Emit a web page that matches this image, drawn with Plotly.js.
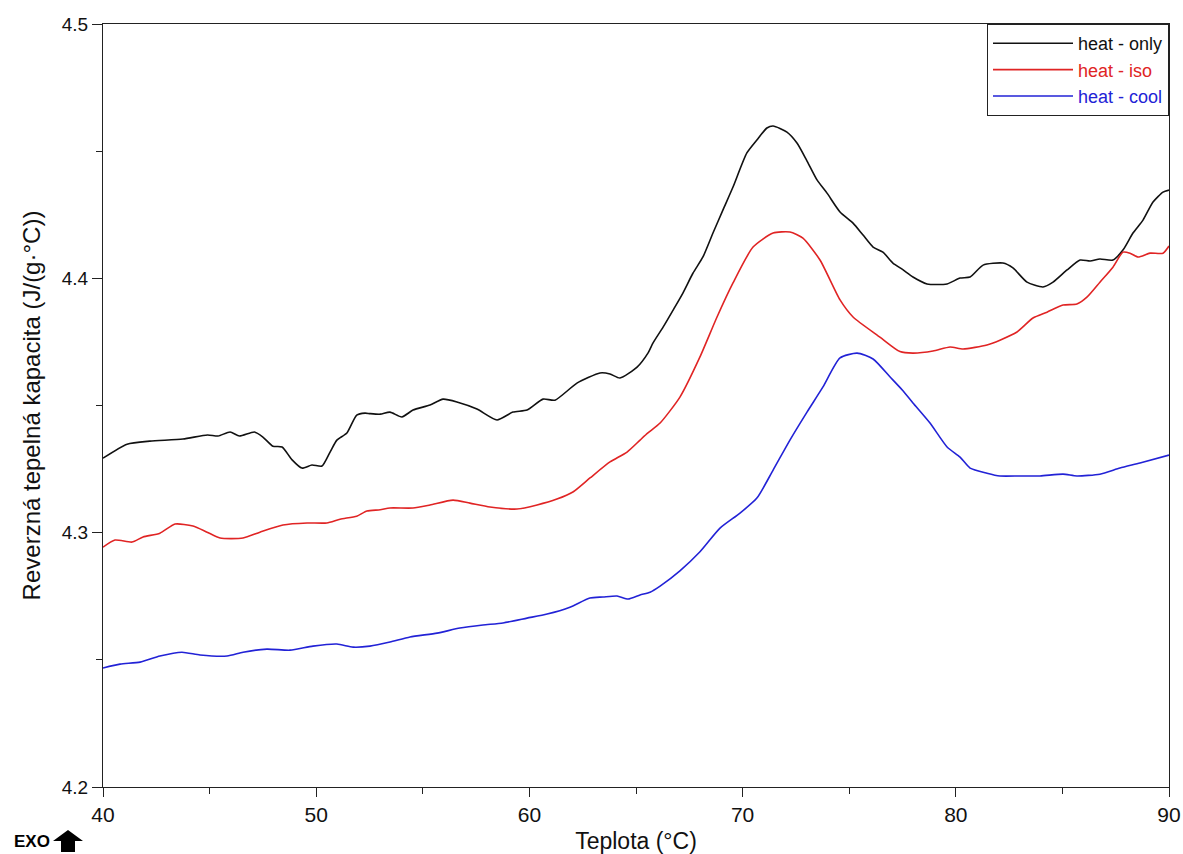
<!DOCTYPE html>
<html>
<head>
<meta charset="utf-8">
<script src="https://cdn.plot.ly/plotly-3.0.1.min.js"></script>
<style>html,body{margin:0;padding:0;background:#fff}#chart{width:1183px;height:854px}</style>
</head>
<body>
<div id="chart"></div>
<script>
// heat - only (black)
const onlyX = [40.0, 41.13, 42.2, 43.75, 44.9, 45.4, 45.96, 46.4, 47.1, 47.5, 47.97, 48.4, 48.87, 49.33, 49.8, 50.27, 50.65, 50.97, 51.44, 51.9, 52.29, 52.52, 53.0, 53.46, 54.02, 54.54, 55.34, 55.95, 56.6, 57.54, 58.48, 59.23, 59.89, 60.64, 61.2, 62.23, 63.31, 63.78, 64.25, 65.05, 65.56, 65.8, 66.27, 66.74, 67.2, 67.67, 68.14, 68.61, 69.08, 69.55, 70.2, 70.67, 71.14, 71.43, 72.08, 72.55, 73.0, 73.49, 73.96, 74.57, 75.18, 75.65, 76.12, 76.58, 77.05, 77.5, 77.99, 78.65, 79.59, 80.2, 80.67, 81.28, 82.21, 82.68, 83.34, 84.09, 84.56, 85.22, 85.83, 86.3, 86.76, 87.37, 87.84, 88.31, 88.78, 89.25, 89.72, 90.0];
const onlyY = [4.3293, 4.3348, 4.3360, 4.3368, 4.3384, 4.3380, 4.3396, 4.3380, 4.3396, 4.3376, 4.3340, 4.3337, 4.3286, 4.3254, 4.3266, 4.3262, 4.3317, 4.3364, 4.3392, 4.3462, 4.3470, 4.3468, 4.3466, 4.3474, 4.3455, 4.3482, 4.3502, 4.3525, 4.3514, 4.3486, 4.3443, 4.3474, 4.3482, 4.3525, 4.3521, 4.3588, 4.3628, 4.3624, 4.3608, 4.3651, 4.3706, 4.3746, 4.3808, 4.3875, 4.3942, 4.4020, 4.4084, 4.4178, 4.4269, 4.4359, 4.4493, 4.4544, 4.4591, 4.4599, 4.4575, 4.4532, 4.4465, 4.4387, 4.4335, 4.4261, 4.4217, 4.4170, 4.4123, 4.4103, 4.4060, 4.4035, 4.4005, 4.3978, 4.3978, 4.4001, 4.4005, 4.4052, 4.4060, 4.4041, 4.3985, 4.3966, 4.3985, 4.4033, 4.4072, 4.4068, 4.4076, 4.4072, 4.4111, 4.4178, 4.4229, 4.4300, 4.4339, 4.4347];

// heat - iso (red)
const isoX = [40.0, 40.56, 41.36, 41.88, 42.67, 43.38, 44.22, 44.88, 45.49, 46.57, 47.36, 48.44, 49.57, 50.5, 51.12, 51.9, 52.38, 53.0, 53.46, 54.54, 55.34, 56.42, 57.21, 58.15, 59.42, 60.36, 61.29, 62.04, 62.84, 63.78, 64.58, 65.19, 65.56, 66.13, 67.06, 68.0, 68.8, 69.55, 70.49, 71.43, 72.22, 72.83, 73.63, 74.57, 75.18, 76.44, 77.38, 77.99, 78.93, 79.73, 80.34, 81.46, 82.07, 82.87, 83.62, 84.28, 85.03, 85.68, 86.15, 86.76, 87.37, 87.84, 88.17, 88.55, 89.11, 89.72, 90.0];
const isoY = [4.2943, 4.2971, 4.2963, 4.2983, 4.2998, 4.3034, 4.3026, 4.3002, 4.2979, 4.2979, 4.3002, 4.3030, 4.3038, 4.3038, 4.3053, 4.3065, 4.3085, 4.3090, 4.3097, 4.3097, 4.3109, 4.3128, 4.3116, 4.3101, 4.3093, 4.3109, 4.3132, 4.3160, 4.3215, 4.3278, 4.3317, 4.3364, 4.3392, 4.3431, 4.3533, 4.3691, 4.3848, 4.3982, 4.4123, 4.4178, 4.4182, 4.4158, 4.4072, 4.3915, 4.3848, 4.3769, 4.3712, 4.3706, 4.3714, 4.3730, 4.3722, 4.3738, 4.3757, 4.3789, 4.3844, 4.3867, 4.3895, 4.3899, 4.3926, 4.3985, 4.4044, 4.4103, 4.4099, 4.4084, 4.4099, 4.4099, 4.4127];

// heat - cool (blue)
const coolX = [40.0, 40.8, 41.74, 42.67, 43.7, 44.55, 45.82, 46.57, 47.69, 48.77, 49.85, 50.97, 51.73, 52.52, 53.46, 54.4, 55.67, 56.74, 57.82, 58.76, 59.89, 60.83, 61.9, 62.84, 63.45, 64.11, 64.63, 65.19, 65.66, 66.13, 67.06, 68.0, 68.94, 69.88, 70.67, 71.43, 72.22, 73.02, 73.77, 74.57, 75.37, 76.12, 76.92, 77.5, 77.99, 78.79, 79.59, 80.2, 80.67, 81.46, 82.07, 83.0, 83.95, 85.03, 85.68, 86.76, 87.7, 88.64, 90.0];
const coolY = [4.2468, 4.2483, 4.2491, 4.2515, 4.2530, 4.2519, 4.2515, 4.2530, 4.2542, 4.2538, 4.2554, 4.2562, 4.2550, 4.2554, 4.2570, 4.2590, 4.2605, 4.2625, 4.2637, 4.2645, 4.2664, 4.2680, 4.2707, 4.2743, 4.2747, 4.2751, 4.2739, 4.2755, 4.2766, 4.2790, 4.2850, 4.2925, 4.3018, 4.3077, 4.3136, 4.3246, 4.3364, 4.3474, 4.3573, 4.3687, 4.3706, 4.3683, 4.3612, 4.3560, 4.3510, 4.3431, 4.3337, 4.3297, 4.3254, 4.3234, 4.3223, 4.3223, 4.3223, 4.3230, 4.3223, 4.3230, 4.3254, 4.3274, 4.3305];

const names = ['heat - only', 'heat - iso', 'heat - cool'];
const colors = ['#111111', '#e02424', '#2222d6'];
const xs = [onlyX, isoX, coolX];
const ys = [onlyY, isoY, coolY];

const traces = names.map((n, i) => ({
  x: xs[i], y: ys[i], type: 'scatter', mode: 'lines',
  name: '<span style="color:' + colors[i] + '">' + n + '</span>',
  line: {color: colors[i], width: 1.6, shape: 'spline', smoothing: 0.6}
}));

const layout = {
  width: 1183, height: 854,
  margin: {l: 103, r: 14, t: 24, b: 67},
  paper_bgcolor: '#fff', plot_bgcolor: '#fff',
  font: {family: 'Liberation Sans, Arial, sans-serif', color: '#111', size: 16},
  showlegend: true,
  legend: {x: 1, y: 1, xanchor: 'right', yanchor: 'top', bgcolor: '#fff',
           bordercolor: '#222', borderwidth: 1, font: {size: 18}, tracegroupgap: 0,
           itemwidth: 80},
  xaxis: {
    range: [40, 90], dtick: 10, tick0: 40, ticks: 'outside', ticklen: 9, tickwidth: 1,
    tickcolor: '#222', showgrid: false, zeroline: false, showline: true, linecolor: '#222',
    linewidth: 1, mirror: true, tickfont: {size: 21, family: 'Liberation Sans Narrow, Arial Narrow, Liberation Sans, sans-serif'},
    minor: {dtick: 5, ticks: 'outside', ticklen: 6, tickcolor: '#222', showgrid: false},
    title: {text: 'Teplota (°C)', font: {size: 23}, standoff: 30}
  },
  yaxis: {
    range: [4.2, 4.5], dtick: 0.1, tick0: 4.2, tickformat: '.1f', ticks: 'outside', ticklen: 10,
    tickwidth: 1, tickcolor: '#222', showgrid: false, zeroline: false, showline: true,
    linecolor: '#222', linewidth: 1, mirror: true, tickfont: {size: 19},
    minor: {dtick: 0.05, ticks: 'outside', ticklen: 6, tickcolor: '#222', showgrid: false},
    title: {text: 'Reverzná tepelná kapacita (J/(g·°C))', font: {size: 24}, standoff: 14}
  },
  annotations: [
    {xref: 'paper', yref: 'paper', x: -0.085, y: -0.072, xanchor: 'left', yanchor: 'middle',
     text: '<b>EXO</b>', showarrow: false,
     font: {size: 17, color: '#000', family: 'Liberation Sans, Arial, sans-serif'}}
  ],
  shapes: [
    {type: 'path', xref: 'paper', yref: 'paper', fillcolor: '#000', line: {width: 0},
     path: 'M -0.03283,-0.05636 L -0.01876,-0.07077 L -0.02627,-0.07077 L -0.02627,-0.08519 L -0.03940,-0.08519 L -0.03940,-0.07077 L -0.04690,-0.07077 Z'}
  ]
};

Plotly.newPlot('chart', traces, layout, {displayModeBar: false, staticPlot: true});
</script>
</body>
</html>
